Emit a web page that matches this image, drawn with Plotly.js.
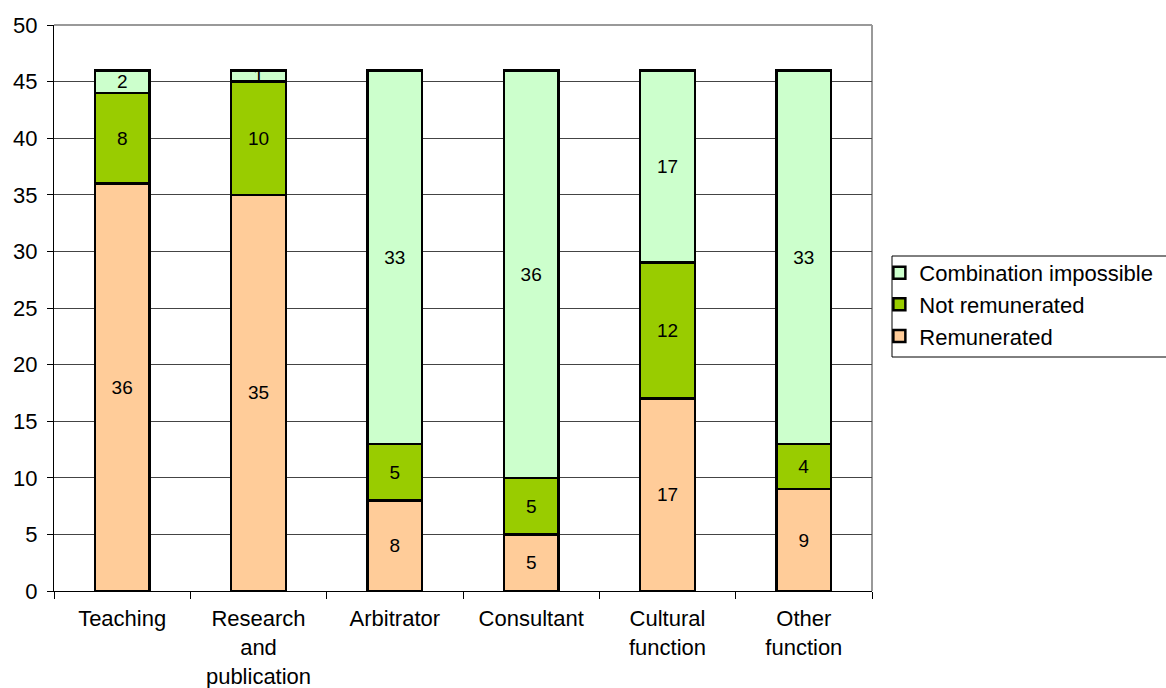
<!DOCTYPE html>
<html>
<head>
<meta charset="utf-8">
<script src="https://cdn.plot.ly/plotly-3.0.1.min.js"></script>
<style>html,body{margin:0;padding:0;background:#fff;}#chart{width:1166px;height:688px;}</style>
</head>
<body>
<div id="chart"></div>
<script>
const categories = ["Teaching", "Research<br>and<br>publication", "Arbitrator", "Consultant", "Cultural<br>function", "Other<br>function"];
const remunerated = [36, 35, 8, 5, 17, 9];
const notRemunerated = [8, 10, 5, 5, 12, 4];
const combinationImpossible = [2, 1, 33, 36, 17, 33];
const yTicks = [0, 5, 10, 15, 20, 25, 30, 35, 40, 45, 50];

function mk(name, vals, color) {
  return {
    type: 'bar', name: name, x: categories, y: vals,
    text: vals.map(String), textposition: 'inside', insidetextanchor: 'middle',
    constraintext: 'none', textangle: 0,
    textfont: {family: 'Liberation Sans, Arial, sans-serif', size: 19, color: '#000'},
    marker: {color: color, line: {color: '#000', width: 2.5}},
    hoverinfo: 'skip'
  };
}
const data = [
  mk('Remunerated', remunerated, '#FFCC99'),
  mk('Not remunerated', notRemunerated, '#99CC00'),
  mk('Combination impossible', combinationImpossible, '#CCFFCC')
];
const layout = {
  width: 1166, height: 688,
  margin: {l: 54, r: 294, t: 25, b: 97, autoexpand: false},
  barmode: 'stack', bargap: 0.6,
  uniformtext: {mode: 'show', minsize: 19},
  paper_bgcolor: '#fff', plot_bgcolor: '#fff',
  font: {family: 'Liberation Sans, Arial, sans-serif', size: 22, color: '#000'},
  showlegend: true,
  legend: {
    x: 1.009, xanchor: 'left', y: 0.599, yanchor: 'top',
    traceorder: 'reversed', bordercolor: 'rgba(0,0,0,0)', borderwidth: 0,
    bgcolor: 'rgba(0,0,0,0)',
    font: {size: 22, color: '#000'}, itemwidth: 30
  },
  xaxis: {
    showline: true, linecolor: '#000', linewidth: 1,
    ticks: 'outside', ticklen: 7, tickcolor: '#000', tickson: 'boundaries',
    showgrid: false, tickfont: {size: 22}, ticklabelstandoff: 8, fixedrange: true
  },
  yaxis: {
    range: [0, 50], tickvals: yTicks, ticktext: yTicks.map(String),
    showline: true, linecolor: '#000', linewidth: 1,
    ticks: 'outside', ticklen: 6, tickcolor: '#000',
    showgrid: true, gridcolor: '#444', gridwidth: 1,
    zeroline: false, tickfont: {size: 22}, ticklabelstandoff: 5, fixedrange: true
  },
  shapes: [
    {type: 'line', xref: 'paper', yref: 'paper', x0: 0, x1: 1, y0: 1, y1: 1, line: {color: '#999', width: 2}, layer: 'below'},
    {type: 'line', xref: 'paper', yref: 'paper', x0: 1, x1: 1, y0: 0, y1: 1, line: {color: '#999', width: 2}, layer: 'below'},
    {type: 'rect', xref: 'paper', yref: 'paper',
     x0: (892 - 54) / 818, x1: (1170 - 54) / 818,
     y0: (591 - 357) / 566, y1: (591 - 256) / 566,
     line: {color: '#000', width: 1}, fillcolor: 'rgba(0,0,0,0)', layer: 'above'}
  ]
};
Plotly.newPlot('chart', data, layout, {displayModeBar: false, staticPlot: true});
</script>
</body>
</html>
